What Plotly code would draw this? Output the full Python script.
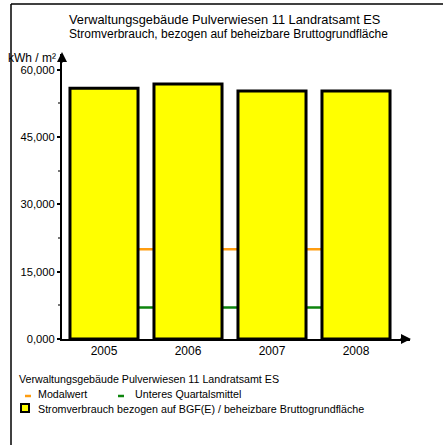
import plotly.graph_objects as go

# Daten (kWh/m², Werte)
jahre = ["2005", "2006", "2007", "2008"]
strom_bgf = [55.87, 56.83, 55.27, 55.25]
modalwert = [20.0, 20.0, 20.0, 20.0]
unteres_quartal = [7.0, 7.0, 7.0, 7.0]
y_ticks = [0, 15, 30, 45, 60]

W, H = 443, 445
L, R, T, B = 62, 33, 54, 106
PW, PH = W - L - R, H - T - B
FONT = "Arial, Liberation Sans, sans-serif"
ORANGE = "#ff9d10"
GRUEN = "#0d850d"


def px(x):
    return (x - L) / PW


def py(y):
    return (H - B - y) / PH


fig = go.Figure()

# Linien liegen hinter den Balken
fig.add_trace(go.Scatter(x=jahre, y=modalwert, mode="lines",
                         line=dict(color=ORANGE, width=2.5), showlegend=False))
fig.add_trace(go.Scatter(x=jahre, y=unteres_quartal, mode="lines",
                         line=dict(color=GRUEN, width=2.5), showlegend=False))
fig.add_trace(go.Bar(x=jahre, y=strom_bgf, width=0.81, xaxis="x2", yaxis="y2",
                     marker=dict(color="#ffff00", line=dict(color="black", width=3)),
                     showlegend=False))

xr = [-0.5, -0.5 + PW / 84]
yr = [0, 63.5]
fig.update_layout(
    width=W, height=H,
    margin=dict(l=L, r=R, t=T, b=B),
    plot_bgcolor="white", paper_bgcolor="white",
    font=dict(family=FONT, size=11, color="black"),
    separators=",.",
    xaxis=dict(type="category", range=xr, showgrid=False, zeroline=False,
               showline=True, linecolor="black", linewidth=2, ticks="",
               tickfont=dict(size=12)),
    yaxis=dict(range=yr, showgrid=False, zeroline=False, showline=True,
               linecolor="black", linewidth=2, tickvals=y_ticks, tickformat=".3f",
               ticks="outside", ticklen=3, tickwidth=2, tickcolor="black",
               minor=dict(dtick=7.5, ticks="outside", ticklen=2, tickcolor="#777"),
               tickfont=dict(size=11.2)),
    xaxis2=dict(type="category", range=xr, overlaying="x", visible=False),
    yaxis2=dict(range=yr, overlaying="y", visible=False),
)

ann = [
    dict(x=px(224), y=py(19), text="Verwaltungsgebäude Pulverwiesen 11 Landratsamt ES",
         font=dict(size=12.8)),
    dict(x=px(228), y=py(34), text="Stromverbrauch, bezogen auf beheizbare Bruttogrundfläche",
         font=dict(size=12)),
    dict(x=px(58), y=py(58), text="kWh / m²", xanchor="right", font=dict(size=12)),
    dict(x=px(17), y=py(379), text="Verwaltungsgebäude Pulverwiesen 11 Landratsamt ES",
         xanchor="left", font=dict(size=10.7)),
    dict(x=px(36), y=py(394), text="Modalwert", xanchor="left", font=dict(size=10.7)),
    dict(x=px(133), y=py(394), text="Unteres Quartalsmittel", xanchor="left",
         font=dict(size=10.7)),
    dict(x=px(36), y=py(409), text="Stromverbrauch bezogen auf BGF(E) / beheizbare Bruttogrundfläche",
         xanchor="left", font=dict(size=10.7)),
]
for a in ann:
    a.update(xref="paper", yref="paper", showarrow=False)
    a.setdefault("xanchor", "center")
    a["yanchor"] = "middle"
    fig.add_annotation(**a)

# Pfeilspitzen der Achsen
fig.add_annotation(xref="paper", yref="paper", x=px(411), y=0, ax=-12, ay=0,
                   showarrow=True, arrowhead=2, arrowsize=1, arrowwidth=2,
                   arrowcolor="black", text="")
fig.add_annotation(xref="paper", yref="paper", x=0, y=py(52), ax=0, ay=12,
                   showarrow=True, arrowhead=2, arrowsize=1, arrowwidth=2,
                   arrowcolor="black", text="")

shapes = [
    # Rahmen
    dict(type="line", x0=px(11), x1=px(11), y0=py(4), y1=py(445),
         line=dict(color="black", width=1.5)),
    dict(type="line", x0=px(11), x1=px(443), y0=py(4), y1=py(4),
         line=dict(color="black", width=1.5)),
    # Legendensymbole
    dict(type="line", x0=px(25), x1=px(31), y0=py(396), y1=py(396),
         line=dict(color=ORANGE, width=2.5)),
    dict(type="line", x0=px(118), x1=px(124), y0=py(396), y1=py(396),
         line=dict(color=GRUEN, width=2.5)),
    dict(type="rect", x0=px(21), x1=px(29), y0=py(404), y1=py(412),
         fillcolor="#ffff00", line=dict(color="black", width=2)),
]
for s in shapes:
    s.update(xref="paper", yref="paper")
    fig.add_shape(**s)

# Seitenrand des Browsers entfernen, damit die Pixelpositionen stimmen
fig.write_html("out.html", config={"displayModeBar": False},
               post_script="document.body.style.margin='0';")
